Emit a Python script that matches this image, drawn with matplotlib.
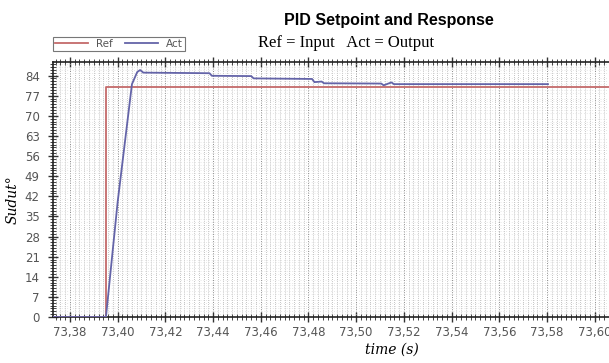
"""
PID setpoint and response plot (Ref vs Act).
"""
import matplotlib
matplotlib.use('Agg')
import matplotlib.pyplot as plt
from matplotlib.ticker import MultipleLocator, FuncFormatter

# data
ref_t = [73.372, 73.3951, 73.3951, 73.6085]
ref_y = [0, 0, 80, 80]
act_t = [73.372, 73.3951, 73.4000, 73.4060, 73.4082, 73.4094, 73.4108, 73.4385,
         73.4395, 73.4560, 73.4570, 73.4815, 73.4825, 73.4855, 73.4865, 73.5105,
         73.5115, 73.5148, 73.5158, 73.5804]
act_y = [0, 0, 40, 81, 85.2, 85.9, 85.0, 84.8,
         83.9, 83.8, 83.0, 82.8, 81.7, 81.9, 81.3, 81.2,
         80.6, 81.6, 81.0, 81.0]
yticks = [0, 7, 14, 21, 28, 35, 42, 49, 56, 63, 70, 77, 84]
xticks = [73.38, 73.40, 73.42, 73.44, 73.46, 73.48, 73.50, 73.52, 73.54, 73.56, 73.58, 73.60]

fig = plt.figure(figsize=(6.09, 3.63), dpi=100)
ax = fig.add_axes([53/609, 46/363, 562/609, 255/363])

ax.plot(ref_t, ref_y, color='#c46a6a', lw=1.3, label='Ref', zorder=3)
ax.plot(act_t, act_y, color='#6464a8', lw=1.3, label='Act', zorder=4)

ax.set_xlim(73.3729, 73.6085)
ax.set_ylim(0, 88.7)
ax.set_xticks(xticks)
ax.set_yticks(yticks)
ax.xaxis.set_minor_locator(MultipleLocator(0.002))
ax.yaxis.set_minor_locator(MultipleLocator(1))
fmt = FuncFormatter(lambda v, p: f'{v:.2f}'.replace('.', ','))
ax.xaxis.set_major_formatter(fmt)

ax.tick_params(axis='both', which='major', direction='inout', length=7, width=1,
               labelsize=8.5, labelcolor='#555555', color='#333333', top=True)
ax.tick_params(axis='both', which='minor', direction='inout', length=5, width=0.7,
               color='#444444', top=True)
ax.tick_params(axis='y', which='major', pad=6)
ax.tick_params(axis='x', which='major', pad=3)

ax.grid(True, which='minor', axis='x', color='#b0b0b0', ls=(0, (1, 1.5)), lw=0.6)
ax.grid(True, which='major', axis='x', color='#888888', ls=(0, (1, 1.5)), lw=0.7)
ax.grid(True, which='minor', axis='y', color='#d0d0d0', ls=(0, (1, 3)), lw=0.5)
for s in ['left', 'bottom', 'top']:
    ax.spines[s].set_color('#222222')
    ax.spines[s].set_linewidth(1.2)
ax.spines['right'].set_visible(False)

ax.set_xlabel('time (s)', family='DejaVu Serif', style='italic', fontsize=10)
ax.set_ylabel('Sudut°', family='DejaVu Serif', style='italic', fontsize=10)
ax.xaxis.set_label_coords((392-53)/562, -26/255)
ax.yaxis.set_label_coords(-33/562, 0.46)

fig.text(389/609, 1-20/363, 'PID Setpoint and Response', ha='center', va='center',
         family='Liberation Sans', weight='bold', fontsize=11.5)
fig.text(346/609, 1-43/363, 'Ref = Input   Act = Output', ha='center', va='center',
         family='Liberation Serif', fontsize=12)

leg = fig.legend(loc='center', bbox_to_anchor=(119/609, 1-44/363), ncol=2, fontsize=7.5,
                 frameon=True, fancybox=False, edgecolor='#555555', handlelength=3.2,
                 borderpad=0.15, columnspacing=1.1, handletextpad=0.8, labelcolor='#555555')
leg.get_frame().set_linewidth(0.8)

fig.savefig('out.png', dpi=100)
